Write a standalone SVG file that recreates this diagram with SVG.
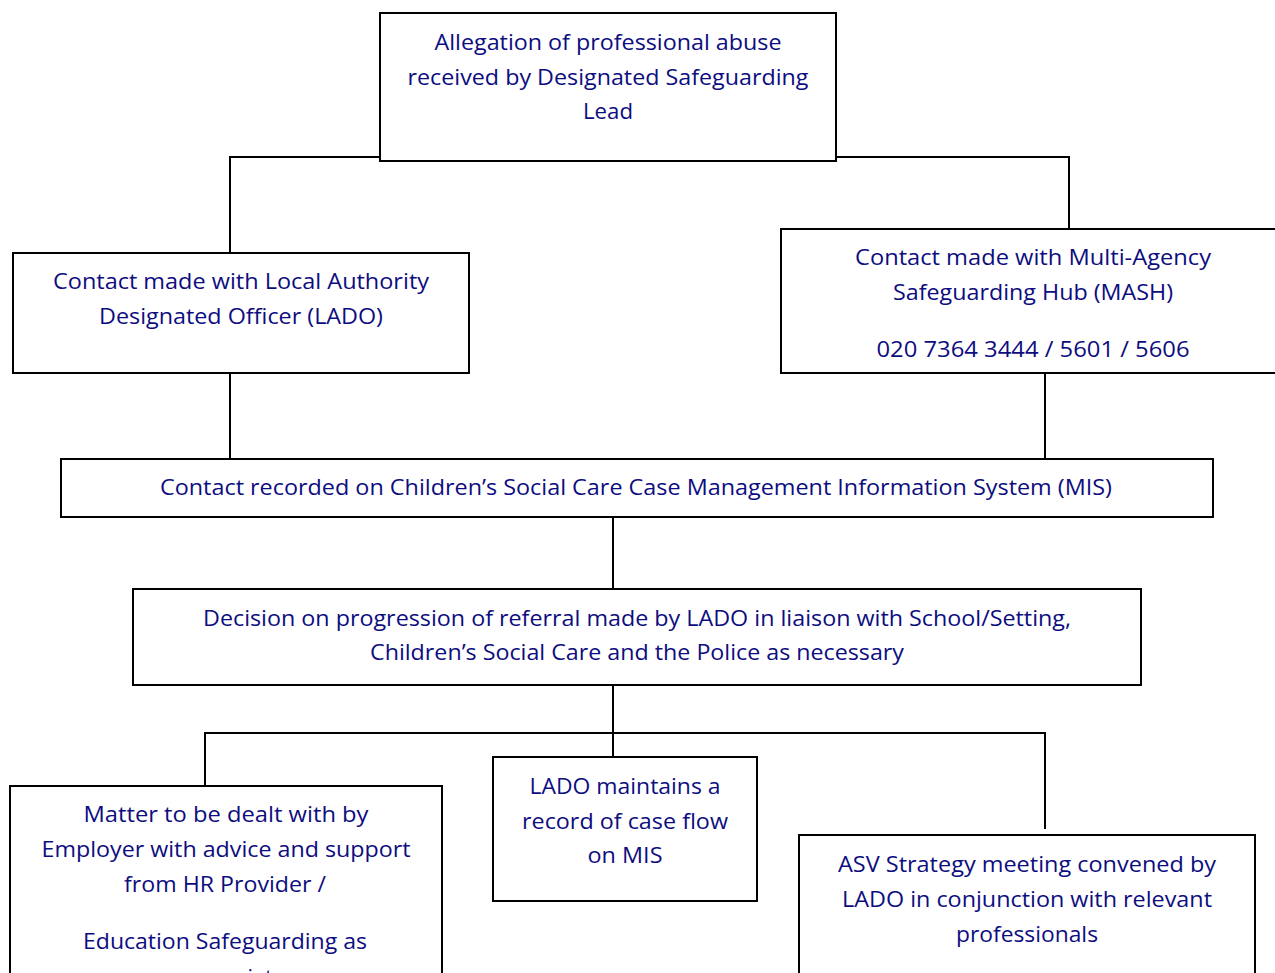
<svg xmlns="http://www.w3.org/2000/svg" width="1275" height="973" viewBox="0 0 1275 973">
<style>
.box{fill:#fff;stroke:#000;stroke-width:2}
.ln{fill:none;stroke:#000;stroke-width:2}
text{font-family:"Open Sans","Noto Sans",sans-serif;font-size:22px;fill:#0d0d80;text-anchor:middle}
</style>
<rect width="1275" height="973" fill="#fff"/>
<g id="connectors">
<polyline class="ln" points="230,253 230,157 380,157"/>
<polyline class="ln" points="836,157 1069,157 1069,229"/>
<line class="ln" x1="230" y1="373" x2="230" y2="459"/>
<line class="ln" x1="1045" y1="373" x2="1045" y2="459"/>
<line class="ln" x1="613" y1="517" x2="613" y2="589"/>
<line class="ln" x1="613" y1="685" x2="613" y2="757"/>
<polyline class="ln" points="205,786 205,733 1045,733 1045,829"/>
</g>
<g id="n-allegation">
<rect class="box" x="380" y="13" width="456" height="148"/>
<text x="608" y="50" textLength="347" lengthAdjust="spacingAndGlyphs">Allegation of professional abuse</text>
<text x="608" y="85" textLength="401" lengthAdjust="spacingAndGlyphs">received by Designated Safeguarding</text>
<text x="608" y="119" textLength="50" lengthAdjust="spacingAndGlyphs">Lead</text>
</g>
<g id="n-lado">
<rect class="box" x="13" y="253" width="456" height="120"/>
<text x="241" y="289" textLength="376" lengthAdjust="spacingAndGlyphs">Contact made with Local Authority</text>
<text x="241" y="324" textLength="284" lengthAdjust="spacingAndGlyphs">Designated Officer (LADO)</text>
</g>
<g id="n-mash">
<rect class="box" x="781" y="229" width="510" height="144"/>
<text x="1033" y="265" textLength="356" lengthAdjust="spacingAndGlyphs">Contact made with Multi-Agency</text>
<text x="1033" y="300" textLength="280" lengthAdjust="spacingAndGlyphs">Safeguarding Hub (MASH)</text>
<text x="1033" y="357" textLength="313" lengthAdjust="spacingAndGlyphs">020 7364 3444 / 5601 / 5606</text>
</g>
<g id="n-mis">
<rect class="box" x="61" y="459" width="1152" height="58"/>
<text x="636" y="495" textLength="952" lengthAdjust="spacingAndGlyphs">Contact recorded on Children’s Social Care Case Management Information System (MIS)</text>
</g>
<g id="n-decision">
<rect class="box" x="133" y="589" width="1008" height="96"/>
<text x="637" y="626" textLength="868" lengthAdjust="spacingAndGlyphs">Decision on progression of referral made by LADO in liaison with School/Setting,</text>
<text x="637" y="660" textLength="534" lengthAdjust="spacingAndGlyphs">Children’s Social Care and the Police as necessary</text>
</g>
<g id="n-employer">
<rect class="box" x="10" y="786" width="432" height="210"/>
<text x="226" y="822" textLength="285" lengthAdjust="spacingAndGlyphs">Matter to be dealt with by</text>
<text x="226" y="857" textLength="369" lengthAdjust="spacingAndGlyphs">Employer with advice and support</text>
<text x="225" y="892" textLength="202" lengthAdjust="spacingAndGlyphs">from HR Provider /</text>
<text x="225" y="949" textLength="284" lengthAdjust="spacingAndGlyphs">Education Safeguarding as</text>
<text x="225" y="985" textLength="120" lengthAdjust="spacingAndGlyphs">appropriate</text>
</g>
<g id="n-record">
<rect class="box" x="493" y="757" width="264" height="144"/>
<text x="625" y="794" textLength="191" lengthAdjust="spacingAndGlyphs">LADO maintains a</text>
<text x="625" y="829" textLength="206" lengthAdjust="spacingAndGlyphs">record of case flow</text>
<text x="625" y="863" textLength="75" lengthAdjust="spacingAndGlyphs">on MIS</text>
</g>
<g id="n-asv">
<rect class="box" x="799" y="835" width="456" height="160"/>
<text x="1027" y="872" textLength="378" lengthAdjust="spacingAndGlyphs">ASV Strategy meeting convened by</text>
<text x="1027" y="907" textLength="370" lengthAdjust="spacingAndGlyphs">LADO in conjunction with relevant</text>
<text x="1027" y="942" textLength="142" lengthAdjust="spacingAndGlyphs">professionals</text>
</g>
</svg>
